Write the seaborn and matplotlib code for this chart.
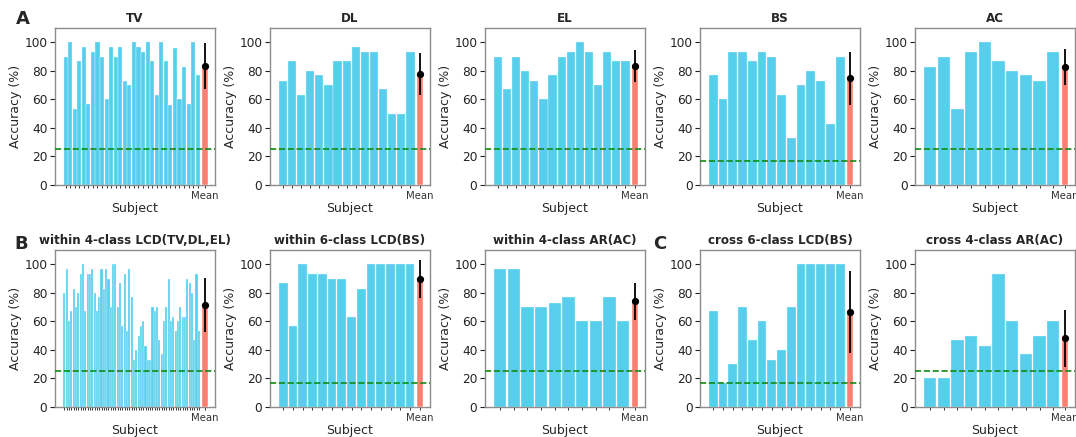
import numpy as np
import matplotlib
matplotlib.use("Agg")
import matplotlib.pyplot as plt
import seaborn as sns

# ---------------- data ----------------
tv = [90, 100, 53, 87, 97, 57, 93, 100, 90, 60, 97, 90, 97, 73, 70,
      100, 97, 93, 100, 87, 63, 100, 87, 56, 96, 60, 83, 57, 100, 77]
dl = [73, 87, 63, 80, 77, 70, 87, 87, 97, 93, 93, 67, 50, 50, 93]
el = [90, 67, 90, 80, 73, 60, 77, 90, 93, 100, 93, 70, 93, 87, 87]
bs = [77, 60, 93, 93, 87, 93, 90, 63, 33, 70, 80, 73, 43, 90]
ac = [83, 90, 53, 93, 100, 87, 80, 77, 73, 93]
within_lcd = [80, 97, 60, 67, 83, 70, 80, 93, 100, 67, 93, 93, 97, 80, 67,
              77, 97, 83, 97, 90, 70, 100, 100, 70, 87, 57, 93, 53, 97, 77,
              33, 40, 50, 57, 60, 43, 33, 33, 70, 67, 70, 47, 37, 60, 70,
              90, 60, 63, 53, 60, 70, 63, 63, 90, 87, 80, 47, 93, 53]
within_bs = [87, 57, 100, 93, 93, 90, 90, 63, 83, 100, 100, 100, 100, 100]
within_ar = [97, 97, 70, 70, 73, 77, 60, 60, 77, 60]
cross_bs = [67, 17, 30, 70, 47, 60, 33, 40, 70, 100, 100, 100, 100, 100]
cross_ar = [20, 20, 47, 50, 43, 93, 60, 37, 50, 60]

titles_top = ["TV", "DL", "EL", "BS", "AC"]
titles_bottom = ["within 4-class LCD(TV,DL,EL)", "within 6-class LCD(BS)",
                 "within 4-class AR(AC)", "cross 6-class LCD(BS)",
                 "cross 4-class AR(AC)"]
chance_top = [100 / 4, 100 / 4, 100 / 4, 100 / 6, 100 / 4]
chance_bottom = [100 / 4, 100 / 6, 100 / 4, 100 / 6, 100 / 4]
yticks = [0, 20, 40, 60, 80, 100]
panel_letters = ["A", "B", "C"]

BAR_COLOR = "#57CEEB"
MEAN_COLOR = "#FA8072"
CHANCE_COLOR = "#138a13"

# ---------------- style ----------------
sns.set_style("ticks")
plt.rcParams["font.family"] = ["DejaVu Sans"]

fig = plt.figure(figsize=(10.76, 4.37), dpi=100)
gs = fig.add_gridspec(2, 5, left=55 / 1076, right=1075 / 1076,
                      top=1 - 28 / 437, bottom=1 - 407 / 437,
                      wspace=0.344, hspace=0.414)

# layout fractions of the axis width
PAD_FRAC = 8.3 / 160      # empty space before first subject bar
SPAN_FRAC = 136.7 / 160   # span of the subject bars
MEAN_C_FRAC = 149.7 / 160
MEAN_W_FRAC = 7.4 / 160


def panel(ax, vals, title, chance):
    n = len(vals)
    x = np.arange(n)
    sns.barplot(x=x, y=vals, ax=ax, color=BAR_COLOR, width=0.9,
                edgecolor="#eafaff", linewidth=0.25, saturation=1)
    unit = SPAN_FRAC / n  # axis fraction per bar
    x0 = -0.5 - PAD_FRAC / unit
    x1 = x0 + 1 / unit
    mean_x = x0 + MEAN_C_FRAC / unit
    mean_w = MEAN_W_FRAC / unit
    m = np.mean(vals)
    s = np.std(vals)
    ax.bar(mean_x, m, width=mean_w, color=MEAN_COLOR, zorder=3)
    ax.errorbar(mean_x, m, yerr=s, fmt="o", color="black", ms=4.2,
                lw=1.3, capsize=0, zorder=4)
    ax.axhline(chance, color=CHANCE_COLOR, ls="--", lw=1.2, zorder=5)
    ax.set_xlim(x0, x1)
    ax.set_ylim(0, 110)
    ax.set_yticks(yticks)
    ax.set_xticks(list(x) + [mean_x])
    ax.set_xticklabels([""] * n + ["Mean"], fontsize=7.3)
    ax.tick_params(axis="x", length=2.5, width=0.7, pad=1.5, colors="#333333")
    ax.tick_params(axis="y", length=3.5, width=0.8, labelsize=8.7,
                   colors="#222222", pad=2)
    ax.set_xlabel("Subject", fontsize=9, labelpad=1)
    ax.set_ylabel("Accuracy (%)", fontsize=9, labelpad=2)
    ax.set_title(title, fontsize=8.6, fontweight="bold", pad=4)
    for sp in ax.spines.values():
        sp.set_visible(True)
        sp.set_color("#8c8c8c")
        sp.set_linewidth(1.0)


top_data = [tv, dl, el, bs, ac]
bottom_data = [within_lcd, within_bs, within_ar, cross_bs, cross_ar]

for i in range(5):
    ax = fig.add_subplot(gs[0, i])
    panel(ax, top_data[i], titles_top[i], chance_top[i])
for i in range(5):
    ax = fig.add_subplot(gs[1, i])
    panel(ax, bottom_data[i], titles_bottom[i], chance_bottom[i])

fig.text(16 / 1076, 1 - 19 / 437, panel_letters[0], fontsize=13,
         fontweight="bold", va="center", ha="left")
fig.text(14 / 1076, 1 - 244 / 437, panel_letters[1], fontsize=13,
         fontweight="bold", va="center", ha="left")
fig.text(653 / 1076, 1 - 244 / 437, panel_letters[2], fontsize=13,
         fontweight="bold", va="center", ha="left")

fig.savefig("out.png", dpi=100)
